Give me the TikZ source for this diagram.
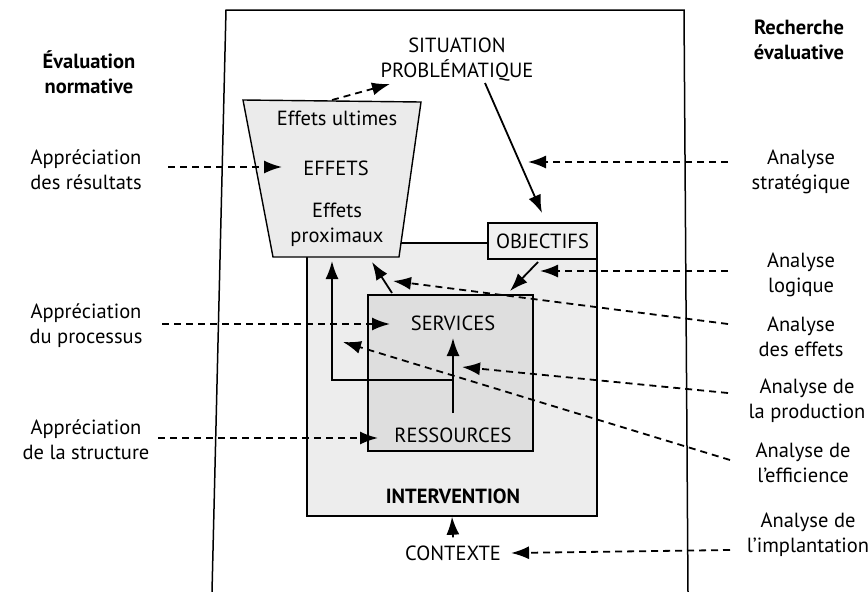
\documentclass[tikz,border=0pt]{standalone}
\usepackage{fontspec}
\setmainfont{PT Sans}
\usetikzlibrary{arrows.meta,calc}
\begin{document}
\begin{tikzpicture}[x=1pt,y=-1pt,
  lbl/.style={font=\fontsize{20.5}{25}\selectfont, align=center, inner sep=0pt},
  bl/.style={font=\fontsize{20.5}{25}\selectfont\bfseries, align=center, inner sep=0pt},
  arr/.style={line width=1.8pt, -{Latex[length=18pt,width=13pt]}},
  darr/.style={arr, dash pattern=on 7pt off 5pt},
  box/.style={draw, line width=1.4pt},
]
\useasboundingbox (0,0) rectangle (868,592);
\fill[white] (0,0) rectangle (868,592);

% frame
\draw[line width=1.5pt] (212,592) -- (226,10) -- (684,10) -- (688,592);

% intervention box
\node[box, fill=gray!14, minimum width=290pt, minimum height=273pt, inner sep=0pt] (interv) at (452,379.5) {};

% effects trapezoid
\draw[box, fill=gray!16] (243,100) coordinate (t1) -- (421,102) coordinate (t2)
   -- (399,257) coordinate (t3) -- (273,257) coordinate (t4) -- cycle;

% objectifs
\node[lbl, box, fill=gray!12, minimum width=109pt, minimum height=36pt] (obj) at (542.5,241) {OBJECTIFS};

% services / ressources box
\node[box, fill=gray!26, minimum width=165pt, minimum height=156pt, inner sep=0pt] (inner) at (450.5,373) {};

% texts
\node[bl] (evalnorm) at (89,72) {Évaluation\\normative};
\node[bl] (recheval) at (799,40) {Recherche\\évaluative};
\node[lbl] (appres) at (86,170) {Appréciation\\des résultats};
\node[lbl] (apppro) at (86,326) {Appréciation\\du processus};
\node[lbl] (appstr) at (86,440) {Appréciation\\de la structure};
\node[lbl] (anastr) at (801,172) {Analyse\\stratégique};
\node[lbl] (analog) at (801,275) {Analyse\\logique};
\node[lbl] (anaeff) at (801,337) {Analyse\\des effets};
\node[lbl] (anaprod) at (807,401) {Analyse de\\la production};
\node[lbl] (anaeffi) at (803,463) {Analyse de\\l’efficience};
\node[lbl] (anaimpl) at (808,535) {Analyse de\\l’implantation};

\node[lbl] (sit) at (457,60) {SITUATION\\PROBLÉMATIQUE};
\node[lbl] (ult) at (337,118) {Effets ultimes};
\node[lbl] (eff) at (336,168) {EFFETS};
\node[lbl] (prox) at (337,225) {Effets\\proximaux};
\node[lbl] (serv) at (453,323) {SERVICES};
\node[lbl] (ress) at (453,435) {RESSOURCES};
\node[bl] (intv) at (453,496) {INTERVENTION};
\node[lbl] (ctx) at (453,553) {CONTEXTE};

% connector ends
\coordinate (ttop) at (332,100);
\coordinate (sitin) at (390,84);
\coordinate (sitout) at (485,83);
\coordinate (objin) at (542,213);
\coordinate (objout) at (538,262);
\coordinate (servtop) at (510,291);
\coordinate (innertl) at (392,293);
\coordinate (proxin) at (372,262);
\coordinate (rsA) at (453,413);
\coordinate (svB) at (453,338);
\coordinate (junc) at (453,380);
\coordinate (tbot) at (332,261);

\coordinate (l1) at (168,167);  \coordinate (l1t) at (282,167);
\coordinate (l2) at (162,324);  \coordinate (l2t) at (390,324);
\coordinate (l3) at (158,438);  \coordinate (l3t) at (378,438);
\coordinate (r1) at (728,162);  \coordinate (r1t) at (528,162);
\coordinate (r2) at (728,271);  \coordinate (r2t) at (540,271);
\coordinate (r3) at (728,324);  \coordinate (r3t) at (393,281);
\coordinate (r4) at (728,393);  \coordinate (r4t) at (462,367);
\coordinate (r5) at (730,460);  \coordinate (r5t) at (343,342);
\coordinate (r6) at (730,550);

% solid connectors
\draw[arr] (sitout) -- (objin);
\draw[arr] (objout) -- (servtop);
\draw[arr] (innertl) -- (proxin);
\draw[arr] (rsA) -- (svB);
\draw[arr] (junc) -| (tbot);
\draw[arr] ([yshift=8pt]ctx.north) -- (interv.south);

% dashed connectors
\draw[darr] (ttop) -- (sitin);
\draw[darr] (l1) -- (l1t);
\draw[darr] (l2) -- (l2t);
\draw[darr] (l3) -- (l3t);
\draw[darr] (r1) -- (r1t);
\draw[darr] (r2) -- (r2t);
\draw[darr] (r3) -- (r3t);
\draw[darr] (r4) -- (r4t);
\draw[darr] (r5) -- (r5t);
\draw[darr] (r6) -- ([xshift=10pt]ctx.east);
\end{tikzpicture}
\end{document}
